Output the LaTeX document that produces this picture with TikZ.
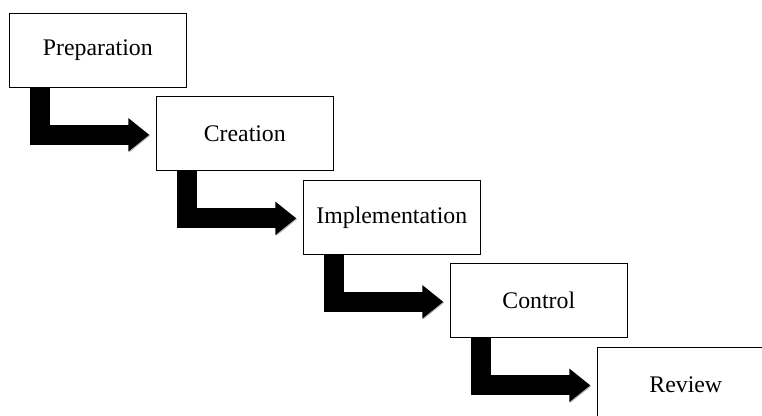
\documentclass[tikz,border=0pt]{standalone}
\usepackage{fontspec}
\setmainfont{Liberation Serif}
\usetikzlibrary{arrows.meta,positioning}

\begin{document}
\begin{tikzpicture}[x=1pt,y=1pt,node distance=9.5pt and -30pt,
                    semithick]
  \tikzstyle{stage}=[draw=black,line width=0.8pt,fill=white,inner sep=0pt,
                     outer sep=0pt,minimum width=177pt,minimum height=74pt,
                     font=\fontsize{23.8}{28}\selectfont]
  \tikzstyle{flow}=[line width=20pt,-{Triangle[length=21pt,width=32pt]},
                    preaction={draw=gray!60,
                               transform canvas={shift={(0.9pt,-0.9pt)}}}]

  \useasboundingbox (0,0) rectangle (762,-415);

  \node[stage, anchor=north west] (prep) at (9.3,-13.3) {Preparation};
  \node[stage, below right=of prep] (crea) {Creation};
  \node[stage, below right=of crea] (impl) {Implementation};
  \node[stage, below right=of impl] (ctrl) {Control};
  \node[stage, below right=of ctrl] (revw) {Review};

  \draw[flow] ([xshift=31pt]prep.south west) |- ([xshift=-7pt,yshift=-1pt]crea.west);
  \draw[flow] ([xshift=31pt]crea.south west) |- ([xshift=-7pt,yshift=-1pt]impl.west);
  \draw[flow] ([xshift=31pt]impl.south west) |- ([xshift=-7pt,yshift=-1pt]ctrl.west);
  \draw[flow] ([xshift=31pt]ctrl.south west) |- ([xshift=-7pt,yshift=-1pt]revw.west);
\end{tikzpicture}
\end{document}
